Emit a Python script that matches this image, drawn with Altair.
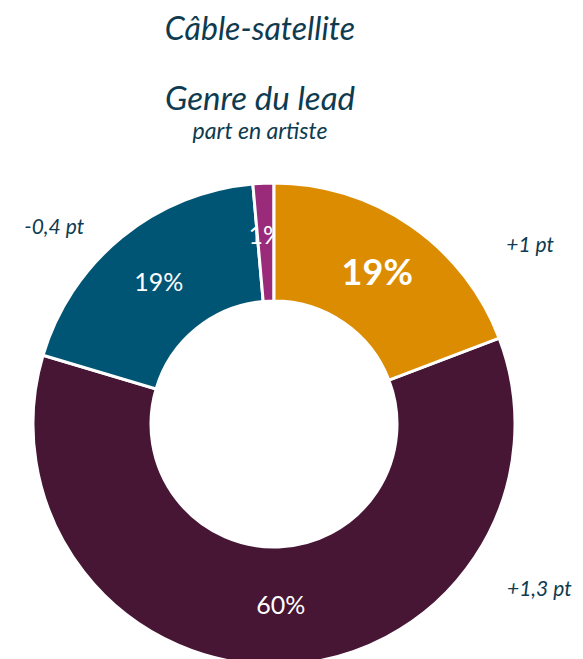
import altair as alt
import pandas as pd
import math

# ---- data ----
categories = ["Femme", "Homme", "Mixte", "Autre"]
values = [19.2, 60.4, 19.0, 1.4]
colors = ["#DC8C00", "#461634", "#005574", "#9A2B7B"]
evolutions = ["+1 pt", "+1,3 pt", "-0,4 pt", ""]

title_line1 = "Câble-satellite"
title_line2 = "Genre du lead"
subtitle = "part en artiste"

TEXT = "#0E3B4F"
FONT = "Lato"

df = pd.DataFrame({
    "genre": categories,
    "part": values,
    "ordre": list(range(len(categories))),
    "evol": evolutions,
})
df["label"] = [f"{round(v)}%" for v in values]

CX, CY = 266, 246  # centre of the ring inside the plot area
TX = 252           # centre of the title block

theta_scale = alt.Scale(domain=[0, 100], range=[0, 2 * math.pi])
color_scale = alt.Scale(domain=categories, range=colors)

base = (
    alt.Chart(df)
    .transform_window(cum="sum(part)", sort=[{"field": "ordre"}], frame=[None, 0])
    .transform_calculate(start="datum.cum - datum.part", mid="datum.cum - datum.part / 2")
)

arc_enc = dict(
    theta=alt.Theta("start:Q", scale=theta_scale),
    theta2="cum:Q",
    color=alt.Color("genre:N", scale=color_scale, legend=None),
    x=alt.value(CX),
    y=alt.value(CY),
)

arcs = base.mark_arc(radius=241, radius2=123, stroke="white", strokeWidth=3).encode(**arc_enc)
arc_top = (
    base.mark_arc(radius=241, radius2=123, stroke="white", strokeWidth=3)
    .encode(**arc_enc)
    .transform_filter(alt.datum.genre == "Femme")
)

txt_enc = dict(
    theta=alt.Theta("mid:Q", scale=theta_scale),
    text="label:N",
    x=alt.value(CX),
    y=alt.value(CY),
)

lab_small_first = (
    base.mark_text(radius=188, font=FONT, fontSize=25, color="white")
    .encode(**txt_enc)
    .transform_filter(alt.datum.genre == "Autre")
)
lab_normal = (
    base.mark_text(radius=182, font=FONT, fontSize=25, color="white")
    .encode(**txt_enc)
    .transform_filter((alt.datum.genre == "Homme") | (alt.datum.genre == "Mixte"))
)
lab_bold = (
    base.mark_text(radius=182, font=FONT, fontSize=36, fontWeight="bold", color="white")
    .encode(**txt_enc)
    .transform_filter(alt.datum.genre == "Femme")
)

ann_enc = dict(
    theta=alt.Theta("mid:Q", scale=theta_scale),
    text="evol:N",
    x=alt.value(CX),
    y=alt.value(CY),
)
offsets = {"Femme": (86, 69), "Homme": (254, -134), "Mixte": (-30, 36)}
ann_layers = [
    base.mark_text(radius=300, font=FONT, fontSize=21, fontStyle="italic", color=TEXT, dx=dx, dy=dy)
    .encode(**ann_enc)
    .transform_filter(alt.datum.genre == g)
    for g, (dx, dy) in offsets.items()
]

tdf = pd.DataFrame({"t": [title_line1, title_line2, subtitle]})
title_layers = [
    alt.Chart(tdf)
    .transform_filter(alt.datum.t == txt)
    .mark_text(font=FONT, fontSize=fs, fontStyle="italic", color=TEXT,
               baseline="alphabetic", align="center")
    .encode(text="t:N", x=alt.value(TX), y=alt.value(yy))
    for txt, fs, yy in [(title_line1, 32, -138), (title_line2, 33, -68), (subtitle, 23, -39)]
]

chart = (
    alt.layer(arcs, lab_small_first, arc_top, lab_normal, lab_bold, *ann_layers, *title_layers)
    .properties(
        width=567,
        height=481,
        padding={"left": 0, "top": 170, "right": 0, "bottom": 0},
        autosize=alt.AutoSizeParams(type="none"),
    )
    .configure_view(stroke=None)
)

chart.save("out.html", embed_options={"renderer": "svg", "actions": False})
